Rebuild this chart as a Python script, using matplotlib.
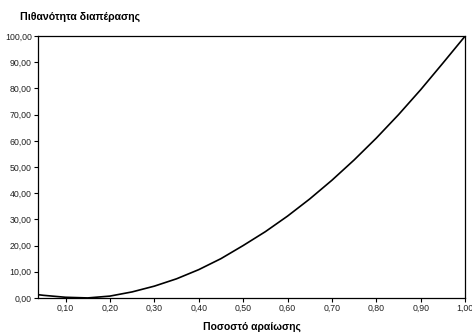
import numpy as np
import matplotlib
matplotlib.use("Agg")
import matplotlib.pyplot as plt
from matplotlib.ticker import FuncFormatter

# values
dilution = [0.04, 0.05, 0.10, 0.15, 0.20, 0.25, 0.30, 0.35, 0.40, 0.45, 0.50,
            0.55, 0.60, 0.65, 0.70, 0.75, 0.80, 0.85, 0.90, 0.95, 1.00]
probability = [1.2, 1.0, 0.25, 0.0, 0.7, 2.3, 4.5, 7.3, 10.8, 15.0, 20.0,
               25.3, 31.25, 37.8, 44.95, 52.7, 61.05, 70.0, 79.55, 89.7, 100.0]

x_ticks = [0.10, 0.20, 0.30, 0.40, 0.50, 0.60, 0.70, 0.80, 0.90, 1.00]
y_ticks = [0, 10, 20, 30, 40, 50, 60, 70, 80, 90, 100]

plt.rcParams['font.family'] = ['Liberation Sans', 'DejaVu Sans']

fig = plt.figure(figsize=(4.72, 3.34), dpi=100)
ax = fig.add_axes([0.0805, 0.108, 0.905, 0.784])

ax.plot(dilution, probability, color='black', lw=1.2, solid_joinstyle='round')

ax.set_xlim(0.038, 1.0)
ax.set_ylim(0, 100)
ax.set_xticks(x_ticks)
ax.set_yticks(y_ticks)

comma = FuncFormatter(lambda v, p: ("%.2f" % v).replace('.', ','))
ax.xaxis.set_major_formatter(comma)
ax.yaxis.set_major_formatter(comma)
ax.tick_params(direction='out', length=3, width=0.8, labelsize=6.3, pad=1.5,
               color='black', labelcolor='#222222')

for s in ax.spines.values():
    s.set_linewidth(0.9)
    s.set_color('black')

fig.text(0.043, 0.948, u"Πιθανότητα διαπέρασης", fontsize=7.6, fontweight='bold',
         ha='left', va='center')
ax.set_xlabel(u"Ποσοστό αραίωσης", fontsize=7.5, fontweight='bold', labelpad=6)

fig.savefig("out.png", dpi=100)
